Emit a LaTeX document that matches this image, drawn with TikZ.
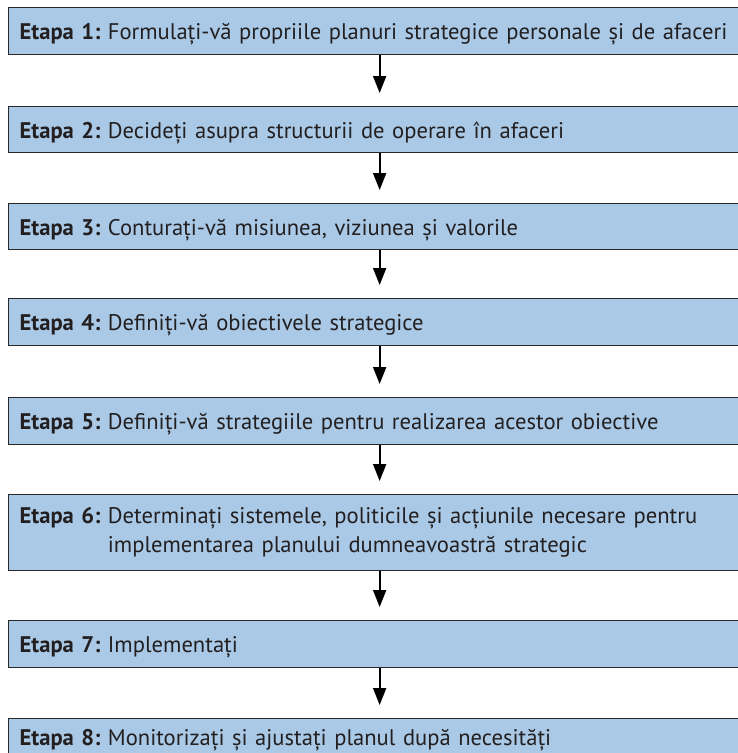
\documentclass[tikz,border=0pt]{standalone}
\usepackage{fontspec}
\setmainfont{PT Sans}
\usetikzlibrary{arrows.meta}
\definecolor{boxfill}{RGB}{169,201,230}
\definecolor{boxline}{RGB}{40,40,40}
\definecolor{ink}{RGB}{35,31,32}
\tikzset{
  stepbox/.style={draw=boxline, fill=boxfill, line width=1.3pt,
    anchor=north west, minimum height=#1, text width=720pt,
    inner xsep=11pt, inner ysep=0pt, align=left, text=ink,
    font=\fontsize{22.6}{29}\selectfont\frenchspacing},
  oneline/.style={text height=17pt, text depth=0pt},
  flow/.style={line width=2pt, -{Triangle[length=17pt,width=13pt]},
    shorten >=13pt}
}
\begin{document}
\begin{tikzpicture}[x=1pt,y=-1pt]
\useasboundingbox (0,0) rectangle (738,753);
\node[stepbox=47pt, oneline] (b1) at (8,7)   {\textbf{Etapa 1:} Formulați-vă propriile planuri strategice personale și de afaceri};
\node[stepbox=46pt, oneline] (b2) at (8,106) {\textbf{Etapa 2:} Decideți asupra structurii de operare în afaceri};
\node[stepbox=46pt, oneline] (b3) at (8,203) {\textbf{Etapa 3:} Conturați-vă misiunea, viziunea și valorile};
\node[stepbox=47pt, oneline] (b4) at (8,298) {\textbf{Etapa 4:} Definiți-vă obiectivele strategice};
\node[stepbox=47pt, oneline] (b5) at (8,397) {\textbf{Etapa 5:} Definiți-vă strategiile pentru realizarea acestor obiective};
\node[stepbox=76pt] (b6) at (8,494) {\begin{tabular}{@{}l@{ }l@{}}\textbf{Etapa 6:} & Determinați sistemele, politicile și acțiunile necesare pentru\\
 & implementarea planului dumneavoastră strategic\end{tabular}};
\node[stepbox=47pt, oneline] (b7) at (8,620) {\textbf{Etapa 7:} Implementați};
\node[stepbox=47pt, text height=11pt, text depth=5pt] (b8) at (8,718) {\textbf{Etapa 8:} Monitorizați și ajustați planul după necesități};
\foreach \a/\b in {b1/b2,b2/b3,b3/b4,b4/b5,b5/b6,b6/b7,b7/b8}
  \draw[flow] (\a.south) -- (\b.north);
\end{tikzpicture}
\end{document}
